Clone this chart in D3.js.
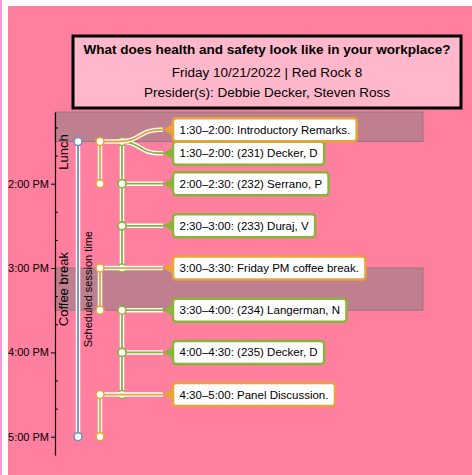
<!DOCTYPE html>
<html>
<head>
<meta charset="utf-8">
<script src="https://cdn.jsdelivr.net/npm/d3@7"></script>
<style>
  body { margin: 0; background: #fff; }
  svg { display: block; font-family: "Liberation Sans", Arial, sans-serif; }
</style>
</head>
<body>
<svg id="chart" width="472" height="475"></svg>
<script>
// header
const titleLines = [
  "What does health and safety look like in your workplace?",
  "Friday 10/21/2022 | Red Rock 8",
  "Presider(s): Debbie Decker, Steven Ross"
];

// breaks shown as grey bands
const bandLabels = ["Lunch", "Coffee break"];
const bandStarts = ["12:30", "15:00"];
const bandEnds = ["13:30", "15:30"];

// the scheduled session window
const scheduleStart = "13:30";
const scheduleEnd = "17:00";

// the items in the session
const itemStarts = ["13:30", "13:30", "14:00", "14:30", "15:00", "15:30", "16:00", "16:30"];
const itemEnds   = ["14:00", "14:00", "14:30", "15:00", "15:30", "16:00", "16:30", "17:00"];
const itemKinds  = ["event", "paper", "paper", "paper", "event", "paper", "paper", "event"];
const itemLabels = [
  "1:30\u20132:00: Introductory Remarks.",
  "1:30\u20132:00: (231) Decker, D",
  "2:00\u20132:30: (232) Serrano, P",
  "2:30\u20133:00: (233) Duraj, V",
  "3:00\u20133:30: Friday PM coffee break.",
  "3:30\u20134:00: (234) Langerman, N",
  "4:00\u20134:30: (235) Decker, D",
  "4:30\u20135:00: Panel Discussion."
];

const parse = d3.timeParse("%H:%M");
const colors = { event: "#e8a33a", paper: "#8cb33c", schedule: "#6d8fc2" };
const laneX = { schedule: 78, event: 100, paper: 122 };

const svg = d3.select("#chart");

svg.append("rect").attr("x", 0).attr("y", 0).attr("width", 2).attr("height", 475).attr("fill", "#f59ae0");
svg.append("rect").attr("x", 8).attr("y", 6).attr("width", 464).attr("height", 469).attr("fill", "#ff7f9f");

const y = d3.scaleTime()
  .domain([parse("13:09"), parse("17:13")])
  .range([112, 455]);

const axisX = 55, bandRight = 423;

// bands
const bands = bandLabels.map((label, i) => ({
  label,
  start: d3.max([parse(bandStarts[i]), y.domain()[0]]),
  end: parse(bandEnds[i])
}));

svg.append("g").selectAll("rect").data(bands).join("rect")
  .attr("x", axisX)
  .attr("y", d => y(d.start))
  .attr("width", bandRight - axisX)
  .attr("height", d => y(d.end) - y(d.start))
  .attr("fill", "rgba(128,128,128,0.5)")
  .attr("stroke", "rgba(110,110,110,0.6)")
  .attr("stroke-width", 1);

// axis
const axis = d3.axisLeft(y)
  .tickValues(d3.timeMinute.every(20).range(parse("13:20"), parse("17:01")))
  .tickSize(3)
  .tickSizeOuter(0)
  .tickPadding(3)
  .tickFormat(d => d.getMinutes() === 0 ? d3.timeFormat("%-I:%M %p")(d) : "");

const gAxis = svg.append("g")
  .attr("transform", `translate(${axisX},0)`)
  .call(axis);
gAxis.selectAll("text").attr("font-size", 11).attr("font-family", "Liberation Sans, Arial, sans-serif").attr("fill", "#000");
gAxis.selectAll(".tick line").attr("x2", d => d.getMinutes() === 0 ? -4 : 3);
gAxis.select(".domain").attr("stroke-width", 1.2);

// band labels
svg.append("g").selectAll("text").data(bands).join("text")
  .attr("transform", d => {
    const mid = Math.max((y(d.start) + y(d.end)) / 2, y.range()[0] + 40);
    return `translate(68,${mid}) rotate(-90)`;
  })
  .attr("text-anchor", "middle")
  .attr("font-size", 13)
  .text(d => d.label);

// helper: cased line
function cased(g, d, color) {
  g.append("path").attr("d", d).attr("fill", "none").attr("stroke", "#fff").attr("stroke-width", 4.5);
  g.append("path").attr("d", d).attr("fill", "none").attr("stroke", color).attr("stroke-width", 1.8);
}
function dot(g, cx, cy, color) {
  g.append("circle").attr("cx", cx).attr("cy", cy).attr("r", 4)
    .attr("fill", "#fff").attr("stroke", color).attr("stroke-width", 1.6);
}

// scheduled session line
const gSched = svg.append("g");
cased(gSched, `M${laneX.schedule},${y(parse(scheduleStart))}V${y(parse(scheduleEnd))}`, colors.schedule);
dot(gSched, laneX.schedule, y(parse(scheduleStart)), colors.schedule);
dot(gSched, laneX.schedule, y(parse(scheduleEnd)), colors.schedule);
svg.append("text")
  .attr("transform", `translate(92,${(y(parse(scheduleStart)) + y(parse(scheduleEnd))) / 2}) rotate(-90)`)
  .attr("text-anchor", "middle")
  .attr("font-size", 11)
  .text("Scheduled session time");

// items
const items = itemLabels.map((label, i) => ({
  label,
  kind: itemKinds[i],
  start: parse(itemStarts[i]),
  end: parse(itemEnds[i])
}));

// label positions: start at item start, then push apart
const boxH = 23, gap = 0.5;
items.forEach(d => { d.ly = y(d.start); });
for (let iter = 0; iter < 50; iter++) {
  for (let i = 1; i < items.length; i++) {
    const a = items[i - 1], b = items[i];
    const overlap = (a.ly + boxH + gap) - b.ly;
    if (overlap > 0) { a.ly -= overlap / 2; b.ly += overlap / 2; }
  }
}

const tipX = 163;
const gLinks = svg.append("g");
// paper lane first, event lane on top
["paper", "event"].forEach(kind => {
  const sub = items.filter(d => d.kind === kind);
  sub.forEach(d => {
    cased(gLinks, `M${laneX[kind]},${y(d.start)}V${y(d.end)}`, colors[kind]);
  });
  sub.forEach(d => {
    const x0 = laneX[kind], y0 = y(d.start);
    const path = Math.abs(d.ly - y0) < 0.5
      ? `M${x0},${y0}H${tipX}`
      : `M${x0},${y0}H${118}C${142},${y0} ${138},${d.ly} ${160},${d.ly}H${tipX}`;
    cased(gLinks, path, colors[kind]);
  });
  sub.forEach(d => {
    dot(gLinks, laneX[kind], y(d.start), colors[kind]);
    dot(gLinks, laneX[kind], y(d.end), colors[kind]);
  });
});

// label boxes
const boxX = 173;
const gBox = svg.append("g").selectAll("g").data(items.slice().reverse()).join("g")
  .attr("transform", d => `translate(${boxX},${d.ly})`);
gBox.append("text")
  .attr("x", 6.5)
  .attr("dy", "0.35em")
  .attr("font-size", 11.5)
  .text(d => d.label)
  .each(function(d) { d.tw = this.getComputedTextLength(); });
gBox.insert("rect", "text")
  .attr("x", 0)
  .attr("y", -boxH / 2)
  .attr("width", d => d.tw + 13)
  .attr("height", boxH)
  .attr("rx", 3)
  .attr("fill", "#fff")
  .attr("stroke", d => colors[d.kind])
  .attr("stroke-width", 2.5);
gBox.insert("path", "rect")
  .attr("d", `M${tipX - boxX},0L1,-6.5L1,6.5Z`)
  .attr("fill", d => colors[d.kind]);

// title box
const gTitle = svg.append("g");
gTitle.append("rect")
  .attr("x", 73).attr("y", 36).attr("width", 388).attr("height", 72)
  .attr("fill", "#ffb8cb").attr("stroke", "#000").attr("stroke-width", 3);
gTitle.selectAll("text").data(titleLines).join("text")
  .attr("x", 267)
  .attr("y", (d, i) => [54, 77, 97][i])
  .attr("text-anchor", "middle")
  .attr("font-size", 13.5)
  .attr("font-weight", (d, i) => i === 0 ? "bold" : "normal")
  .text(d => d);
</script>
</body>
</html>
